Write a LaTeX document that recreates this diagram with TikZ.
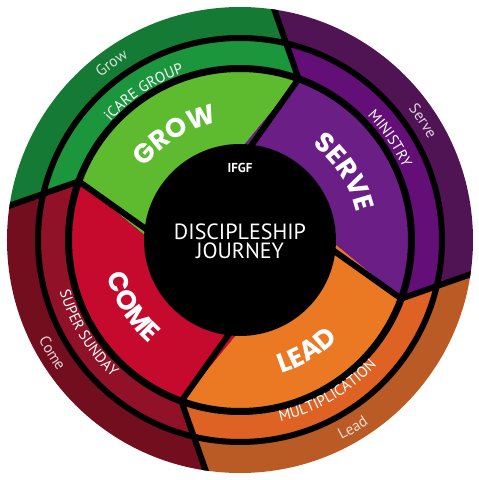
\documentclass[tikz,border=0pt]{standalone}
\usepackage{fontspec}
\setmainfont{PT Sans}
\newfontfamily\popfont{Poppins}
\usetikzlibrary{decorations.text}
\definecolor{gO}{HTML}{157A34}
\definecolor{gM}{HTML}{1B963C}
\definecolor{gI}{HTML}{5EBA2F}
\definecolor{sO}{HTML}{501455}
\definecolor{sM}{HTML}{640F78}
\definecolor{sI}{HTML}{6C1E87}
\definecolor{cO}{HTML}{730E1E}
\definecolor{cM}{HTML}{911228}
\definecolor{cI}{HTML}{C60A2D}
\definecolor{lO}{HTML}{BA5A25}
\definecolor{lM}{HTML}{DE6224}
\definecolor{lI}{HTML}{EB7823}
\newcommand\segfill[4]{%
  \begin{scope}
    \clip ({#1+17}:96) -- (#1:171.5) -- ({#1+13}:240)
      arc[start angle={#1+13}, end angle={#1+103}, radius=240]
      -- ({#1+90}:171.5) -- ({#1+107}:96)
      arc[start angle={#1+107}, end angle={#1+17}, radius=96] -- cycle;
    \fill[#2] (0,0) circle (240);
    \fill[#3] (0,0) circle (202);
    \fill[#4] (0,0) circle (171.5);
  \end{scope}}
\newcommand\cwtext[5]{%
  \path[decorate,decoration={text along path,text align=center,text color=#4,text={|#3|#5}}]
    ({#1+60}:#2) arc[start angle={#1+60}, end angle={#1-60}, radius=#2];}
\newcommand\ccwtext[5]{%
  \path[decorate,decoration={text along path,text align=center,text color=#4,text={|#3|#5}}]
    ({#1-60}:#2) arc[start angle={#1-60}, end angle={#1+60}, radius=#2];}
\newcommand\bigf{\popfont\fontsize{27}{27}\selectfont\bfseries}
\newcommand\midf{\fontsize{15}{15}\selectfont}
\newcommand\outf{\fontsize{15.5}{15.5}\selectfont}
\tikzset{sepline/.style={black, line width=6, line join=miter}}
\begin{document}
\begin{tikzpicture}[x=1pt, y=1pt]
  \useasboundingbox[fill=white] (-240,-240) rectangle (239,240);
  \begin{scope}
    \clip (0,0) circle (233);
    \segfill{70}{gO}{gM}{gI}
    \segfill{-20}{sO}{sM}{sI}
    \segfill{-110}{lO}{lM}{lI}
    \segfill{160}{cO}{cM}{cI}
    \draw[sepline] (0,0) circle (202);
    \draw[sepline, line width=7] (0,0) circle (171.5);
    \foreach \a in {70,160,250,340}
      \draw[sepline] ({\a+17}:85) -- (\a:171.5) -- ({\a+13}:245);
    \node[circle, fill=black, minimum size=192, inner sep=0] (hub) at (0,0) {};
  \end{scope}
  % center texts
  \node[text=white, font=\fontsize{13}{13}\selectfont\bfseries] (ifgf) at (0,72.5) {IFGF};
  \node[text=white, font=\fontsize{22}{22}\selectfont, align=center] (title) at (0,-1) {DISCIPLESHIP\\[-3pt]JOURNEY};
  % GROW
  \cwtext{122}{119.5}{\bigf}{white}{GROW}
  \cwtext{123}{176}{\midf}{white}{iCARE GROUP}
  \cwtext{126}{213.5}{\outf}{white!80!gO}{Grow}
  % SERVE
  \cwtext{33}{119.5}{\bigf}{white}{SERVE}
  \cwtext{34}{178}{\midf}{white}{MINISTRY}
  \cwtext{33}{213.5}{\outf}{white!80!sO}{Serve}
  % COME
  \ccwtext{212}{137.5}{\bigf}{white}{COME}
  \ccwtext{211.5}{187.5}{\midf}{white}{SUPER SUNDAY}
  \ccwtext{211}{224.5}{\outf}{white!80!cO}{Come}
  % LEAD
  \ccwtext{301}{139.5}{\bigf}{white}{LEAD}
  \ccwtext{300}{185.5}{\midf}{white}{MULTIPLICATION}
  \ccwtext{301}{224}{\outf}{white!80!lO}{Lead}
\end{tikzpicture}
\end{document}
